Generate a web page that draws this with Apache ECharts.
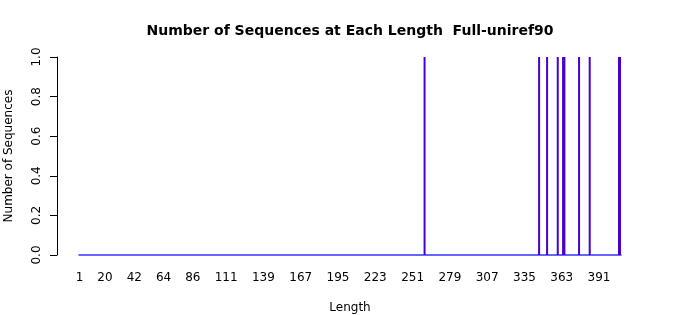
<!DOCTYPE html>
<html><head><meta charset="utf-8">
<script src="https://cdn.jsdelivr.net/npm/echarts@6/dist/echarts.min.js"></script>
<style>html,body{margin:0;padding:0;background:#fff}#c{width:700px;height:315px}</style>
</head><body><div id="c"></div>
<script>
// Data
var maxLength = 407;
var observedLengths = [260, 346, 352, 360, 364, 365, 376, 384, 406, 407];
var observedCounts  = [1, 1, 1, 1, 1, 1, 1, 1, 1, 1];
var xTickLabels = ['1','20','42','64','86','111','139','167','195','223','251','279','307','335','363','391'];
var yTicks = [0, 0.2, 0.4, 0.6, 0.8, 1.0];

var categories = [];
for (var i = 1; i <= maxLength; i++) categories.push(String(i));
var countMap = {};
observedLengths.forEach(function (l, k) { countMap[l] = observedCounts[k]; });
var values = categories.map(function (c) { return countMap[+c] || 0; });

var FONT = 'DejaVu Sans';
var chart = echarts.init(document.getElementById('c'), null, {renderer: 'canvas'});
chart.setOption({
  animation: false,
  textStyle: {fontFamily: FONT},
  title: {
    text: 'Number of Sequences at Each Length  Full-uniref90',
    left: 'center', top: 19,
    textStyle: {fontFamily: FONT, fontSize: 14, fontWeight: 'bold', color: '#000'}
  },
  grid: {left: 79, right: 79, top: 57, bottom: 60, containLabel: false, outerBoundsMode: 'none'},
  xAxis: {
    type: 'category',
    data: categories,
    name: 'Length',
    nameLocation: 'middle',
    nameGap: 47,
    nameTextStyle: {fontFamily: FONT, fontSize: 12, color: '#000'},
    axisLine: {show: true, lineStyle: {color: '#3535ff', width: 1.5}},
    axisTick: {show: false},
    axisLabel: {
      interval: function (idx, val) { return xTickLabels.indexOf(val) >= 0; },
      margin: 17, fontFamily: FONT, fontSize: 12, color: '#000'
    },
    splitLine: {show: false}
  },
  yAxis: {
    type: 'value',
    min: 0, max: 1, interval: 0.2,
    offset: 22,
    name: 'Number of Sequences',
    nameLocation: 'middle',
    nameGap: 42,
    nameTextStyle: {fontFamily: FONT, fontSize: 12, color: '#000'},
    axisLine: {show: true, lineStyle: {color: '#000', width: 1}},
    axisTick: {show: true, length: 7, lineStyle: {color: '#000'}},
    axisLabel: {
      rotate: 90, margin: 14, fontFamily: FONT, fontSize: 12, color: '#000',
      formatter: function (v) { return v.toFixed(1); }
    },
    splitLine: {show: false}
  },
  series: [{
    type: 'bar',
    data: values,
    barWidth: 2,
    barCategoryGap: 0,
    itemStyle: {color: '#4800cc'}
  }]
});
</script></body></html>
